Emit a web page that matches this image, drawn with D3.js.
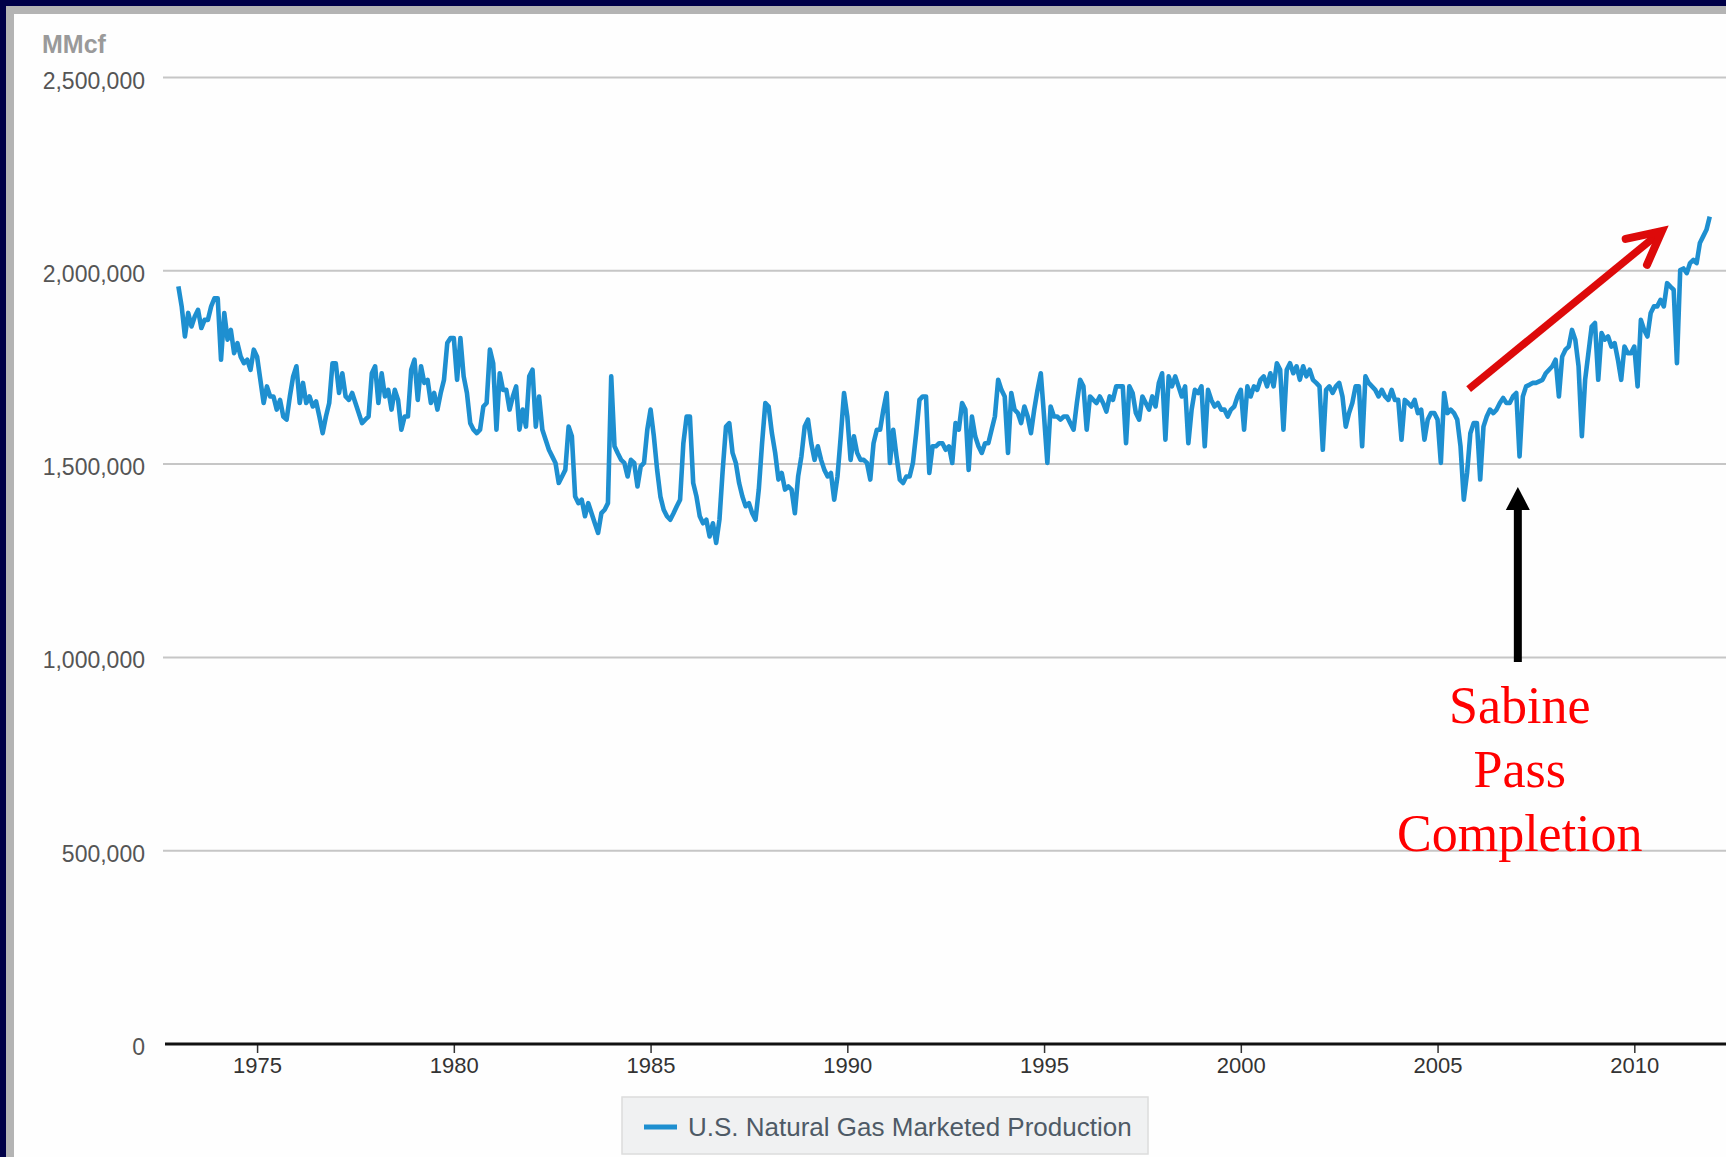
<!DOCTYPE html>
<html>
<head>
<meta charset="utf-8">
<script src="https://cdn.jsdelivr.net/npm/d3@7/dist/d3.min.js"></script>
<style>
  html, body { margin: 0; padding: 0; background: #000048; overflow: hidden; }
  svg { display: block; }
</style>
</head>
<body>
<svg id="chart" width="1726" height="1157"></svg>
<script>
// ---------------- DATA (monthly, MMcf) ----------------
const firstYear = 1973;
const unitLabel = "MMcf";
const seriesName = "U.S. Natural Gas Marketed Production";
const yTickValues = [0, 500000, 1000000, 1500000, 2000000, 2500000];
const xTickYears = [1975, 1980, 1985, 1990, 1995, 2000, 2005, 2010];
const noteLines = ["Sabine", "Pass", "Completion"];

const prod1970s = [
  1960000,1908000,1830000,1891000,1856000,1882000,1899000,1852000,1873000,1873000,1908000,1929000,
  1929000,1770000,1891000,1822000,1847000,1787000,1813000,1778000,1761000,1770000,1744000,1796000,
  1778000,1718000,1658000,1701000,1675000,1675000,1641000,1666000,1623000,1615000,1675000,1727000,
  1753000,1658000,1710000,1658000,1675000,1649000,1662000,1623000,1580000,1623000,1658000,1761000,
  1761000,1684000,1735000,1675000,1666000,1684000,1658000,1632000,1606000,1615000,1623000,1735000,
  1753000,1658000,1735000,1675000,1692000,1641000,1692000,1666000,1589000,1623000,1623000,1744000,
  1770000,1666000,1753000,1710000,1718000,1658000,1684000,1641000,1684000,1718000,1813000,1826000
];
const prod1980s = [
  1826000,1718000,1826000,1727000,1684000,1606000,1589000,1580000,1589000,1649000,1658000,1796000,
  1761000,1589000,1735000,1692000,1692000,1641000,1675000,1701000,1589000,1641000,1597000,1727000,
  1744000,1597000,1675000,1589000,1563000,1537000,1520000,1503000,1451000,1468000,1485000,1597000,
  1572000,1416000,1399000,1408000,1365000,1399000,1373000,1347000,1322000,1373000,1382000,1399000,
  1727000,1546000,1528000,1511000,1503000,1468000,1511000,1503000,1442000,1494000,1503000,1589000,
  1641000,1572000,1485000,1416000,1382000,1365000,1356000,1373000,1391000,1408000,1554000,1623000,
  1623000,1451000,1416000,1365000,1347000,1356000,1313000,1347000,1296000,1356000,1485000,1597000,
  1606000,1529000,1503000,1451000,1416000,1391000,1399000,1373000,1356000,1434000,1554000,1658000,
  1649000,1580000,1529000,1460000,1477000,1434000,1442000,1434000,1373000,1468000,1520000,1597000,
  1615000,1554000,1511000,1546000,1511000,1485000,1468000,1477000,1408000,1468000,1572000,1684000
];
const prod1990s = [
  1623000,1511000,1572000,1529000,1511000,1511000,1503000,1460000,1554000,1589000,1589000,1641000,
  1684000,1503000,1589000,1520000,1460000,1451000,1468000,1468000,1503000,1580000,1666000,1675000,
  1675000,1477000,1546000,1546000,1554000,1554000,1537000,1546000,1503000,1606000,1589000,1658000,
  1641000,1485000,1623000,1572000,1546000,1529000,1554000,1554000,1589000,1623000,1718000,1692000,
  1675000,1529000,1684000,1641000,1632000,1606000,1649000,1623000,1580000,1641000,1692000,1735000,
  1623000,1503000,1649000,1623000,1623000,1615000,1623000,1623000,1606000,1589000,1658000,1718000,
  1701000,1589000,1675000,1666000,1658000,1675000,1658000,1636000,1675000,1666000,1701000,1701000,
  1701000,1554000,1701000,1684000,1632000,1615000,1675000,1658000,1641000,1675000,1649000,1710000,
  1735000,1563000,1727000,1701000,1727000,1701000,1675000,1701000,1554000,1641000,1692000,1684000,
  1701000,1546000,1692000,1666000,1649000,1658000,1641000,1641000,1623000,1641000,1649000,1675000
];
const prod2000s = [
  1692000,1589000,1701000,1675000,1701000,1692000,1718000,1727000,1701000,1735000,1701000,1761000,
  1744000,1589000,1744000,1761000,1735000,1753000,1718000,1753000,1727000,1744000,1718000,1710000,
  1701000,1537000,1692000,1701000,1684000,1701000,1710000,1675000,1597000,1632000,1658000,1701000,
  1701000,1546000,1727000,1710000,1701000,1692000,1675000,1692000,1675000,1666000,1692000,1666000,
  1666000,1563000,1666000,1658000,1649000,1666000,1632000,1641000,1563000,1615000,1632000,1632000,
  1615000,1503000,1684000,1632000,1641000,1632000,1615000,1546000,1408000,1477000,1580000,1606000,
  1606000,1460000,1597000,1623000,1641000,1632000,1641000,1658000,1671000,1658000,1658000,1675000,
  1684000,1520000,1675000,1701000,1705000,1710000,1710000,1714000,1718000,1735000,1744000,1753000,
  1770000,1675000,1778000,1796000,1804000,1847000,1822000,1753000,1572000,1718000,1787000,1856000,
  1865000,1718000,1839000,1822000,1830000,1804000,1813000,1770000,1718000,1804000,1787000,1787000
];
const prod2010s = [
  1804000,1701000,1873000,1847000,1830000,1891000,1908000,1908000,1925000,1908000,1968000,1959000,
  1951000,1761000,2002000,2006000,1994000,2020000,2028000,2020000,2072000,2089000,2106000,2140000
];

// ---------------- BUILD ----------------
const monthly = [].concat(prod1970s, prod1980s, prod1990s, prod2000s, prod2010s)
  .map((v, i) => ({ t: firstYear + i / 12, v }));

const W = 1726, H = 1157;
const svg = d3.select("#chart");

// frame
svg.append("rect").attr("width", W).attr("height", H).attr("fill", "#000048");
svg.append("rect").attr("x", 6).attr("y", 6).attr("width", W).attr("height", H).attr("fill", "#b4b4b4");
svg.append("rect").attr("x", 14).attr("y", 14).attr("width", W).attr("height", H).attr("fill", "#fefefe");

const plotLeft = 165, plotRight = 1726, y0 = 1044, yTop = 77.5;
const x = d3.scaleLinear().domain([1972.66, 2012.33]).range([plotLeft, plotRight]);
const y = d3.scaleLinear().domain([0, 2500000]).range([y0, yTop]);

const sans = "'Liberation Sans', Arial, sans-serif";

// gridlines
svg.append("g").selectAll("line")
  .data(yTickValues.filter(d => d > 0))
  .join("line")
  .attr("x1", 163).attr("x2", W)
  .attr("y1", d => y(d)).attr("y2", d => y(d))
  .attr("stroke", "#c6c6c6").attr("stroke-width", 2);

// y labels
svg.append("g").selectAll("text")
  .data(yTickValues)
  .join("text")
  .attr("x", 145).attr("y", d => y(d) + 11)
  .attr("text-anchor", "end")
  .attr("font-family", sans).attr("font-size", 23)
  .attr("fill", "#555")
  .text(d => d3.format(",")(d));

// unit label
svg.append("text")
  .attr("x", 42).attr("y", 53)
  .attr("font-family", sans).attr("font-size", 25).attr("font-weight", "bold")
  .attr("fill", "#9a9a9a")
  .text(unitLabel);

// x axis
const xAxis = d3.axisBottom(x)
  .tickValues(xTickYears)
  .tickFormat(d3.format("d"))
  .tickSize(9)
  .tickPadding(4);
const gx = svg.append("g").attr("transform", `translate(0,${y0})`).call(xAxis);
gx.select(".domain").remove();
gx.selectAll(".tick line").attr("stroke", "#333").attr("stroke-width", 1.5);
gx.selectAll(".tick text")
  .attr("font-family", sans).attr("font-size", 22).attr("fill", "#333");
svg.append("line")
  .attr("x1", plotLeft).attr("x2", W)
  .attr("y1", y0).attr("y2", y0)
  .attr("stroke", "#111").attr("stroke-width", 3);

// series line
const line = d3.line().x(d => x(d.t)).y(d => y(d.v));
svg.append("path")
  .datum(monthly)
  .attr("d", line)
  .attr("fill", "none")
  .attr("stroke", "#1e8fd0")
  .attr("stroke-width", 4.6)
  .attr("stroke-linejoin", "round");

// legend
const lg = svg.append("g");
lg.append("rect")
  .attr("x", 622).attr("y", 1097).attr("width", 526).attr("height", 57)
  .attr("fill", "#f0f1f2").attr("stroke", "#dcdcdc").attr("stroke-width", 1.5);
lg.append("line")
  .attr("x1", 644).attr("x2", 677).attr("y1", 1127).attr("y2", 1127)
  .attr("stroke", "#1e8fd0").attr("stroke-width", 5);
lg.append("text")
  .attr("x", 688).attr("y", 1136)
  .attr("font-family", sans).attr("font-size", 26)
  .attr("fill", "#4e5a66")
  .text(seriesName);

// red trend arrow
const rs = [x(2005.79), y(1694000)], rt = [x(2010.70), y(2103000)];
const ang = Math.atan2(rs[1] - rt[1], rs[0] - rt[0]);
const armLen = 37, spread = 27 * Math.PI / 180;
const a1 = [rt[0] + armLen * Math.cos(ang + spread), rt[1] + armLen * Math.sin(ang + spread)];
const a2 = [rt[0] + armLen * Math.cos(ang - spread), rt[1] + armLen * Math.sin(ang - spread)];
svg.append("path")
  .attr("d", `M${rs[0]},${rs[1]}L${rt[0]},${rt[1]}`)
  .attr("fill", "none").attr("stroke", "#dd0a0a")
  .attr("stroke-width", 7.5).attr("stroke-linecap", "butt");
svg.append("path")
  .attr("d", `M${a1[0]},${a1[1]}L${rt[0]},${rt[1]}L${a2[0]},${a2[1]}`)
  .attr("fill", "none").attr("stroke", "#dd0a0a")
  .attr("stroke-width", 8).attr("stroke-linecap", "round").attr("stroke-linejoin", "miter");

// black arrow
const bx = x(2007.04), bTip = y(1441000), bBot = y(988000);
svg.append("line")
  .attr("x1", bx).attr("x2", bx).attr("y1", bBot).attr("y2", bTip + 18)
  .attr("stroke", "#000").attr("stroke-width", 8);
svg.append("path")
  .attr("d", `M${bx},${bTip}L${bx + 12},${bTip + 23}L${bx - 12},${bTip + 23}Z`)
  .attr("fill", "#000");

// annotation text
const tx = x(2007.09);
const baselines = [830000, 665000, 499000];
svg.append("g").selectAll("text")
  .data(noteLines)
  .join("text")
  .attr("x", tx).attr("y", (d, i) => y(baselines[i]))
  .attr("text-anchor", "middle")
  .attr("font-family", "'Liberation Serif', 'Times New Roman', serif")
  .attr("font-size", 52)
  .attr("fill", "#ff0000")
  .text(d => d);
</script>
</body>
</html>
